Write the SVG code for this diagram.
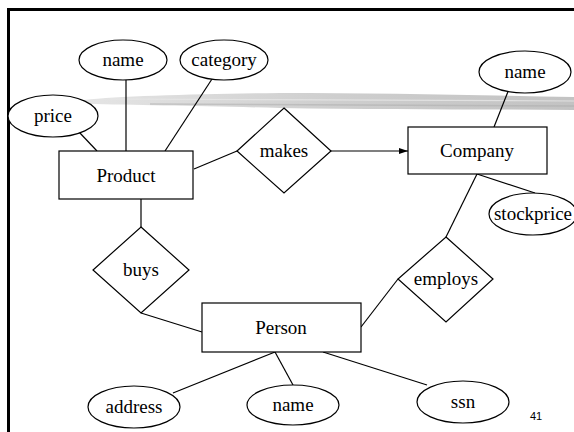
<svg xmlns="http://www.w3.org/2000/svg" width="574" height="432" viewBox="0 0 574 432">
<style>
.s{fill:#fff;stroke:#000;stroke-width:1.2}
.t{font-family:"Liberation Serif","Times New Roman",serif;font-size:19px;fill:#000;text-anchor:middle}
.c line{stroke:#000;stroke-width:1.2;fill:none}
</style>
<defs>
<marker id="ah" markerWidth="10" markerHeight="8" refX="9" refY="4" orient="auto" markerUnits="userSpaceOnUse">
<path d="M0,1 L9,4 L0,7 Z" fill="#000"/>
</marker>
<linearGradient id="br" x1="0" x2="1" y1="0" y2="0">
<stop offset="0" stop-color="#e0e0e0"/>
<stop offset="0.5" stop-color="#c6c6c6"/>
<stop offset="1" stop-color="#b8b8b8"/>
</linearGradient>
</defs>
<rect width="574" height="432" fill="#fff"/>
<g id="frame">
<path d="M8.5,432 L8.5,9.5 L574,9.5" fill="none" stroke="#000" stroke-width="3"/>
</g>
<g id="brush">
<path d="M84,100 C120,96 200,94 280,93 C380,93 480,95 574,97 L574,110 C480,109 380,110 280,108 C200,106 140,105 86,104 Z" fill="url(#br)" opacity="0.85"/>
<path d="M110,99 L574,101" stroke="#e8e8e8" stroke-width="1.2" opacity="0.8"/>
<path d="M150,104 L574,106" stroke="#ababab" stroke-width="1.5" opacity="0.5"/>
</g>
<g class="c" id="connectors">
<line x1="126" y1="80" x2="126" y2="151"/>
<line x1="212" y1="79" x2="165" y2="151"/>
<line x1="79" y1="132" x2="97" y2="151"/>
<line x1="194" y1="169" x2="237" y2="151"/>
<line x1="331" y1="151" x2="408" y2="151" marker-end="url(#ah)"/>
<line x1="509" y1="89" x2="494" y2="127"/>
<line x1="477" y1="174" x2="535" y2="193"/>
<line x1="477" y1="174" x2="446" y2="237"/>
<line x1="398" y1="279" x2="361" y2="327"/>
<line x1="141" y1="199" x2="141" y2="227"/>
<line x1="141" y1="313" x2="202" y2="332"/>
<line x1="275" y1="352" x2="173" y2="393"/>
<line x1="275" y1="352" x2="293" y2="385"/>
<line x1="323" y1="352" x2="427" y2="385"/>
</g>
<g id="product-name"><ellipse class="s" cx="123" cy="60" rx="44" ry="20"/><text class="t" x="123" y="66">name</text></g>
<g id="category"><ellipse class="s" cx="224" cy="60" rx="44" ry="20"/><text class="t" x="224" y="66">category</text></g>
<g id="price"><ellipse class="s" cx="53" cy="116" rx="45" ry="21"/><text class="t" x="53" y="122">price</text></g>
<g id="product"><rect class="s" x="59" y="151" width="134" height="48"/><text class="t" x="126" y="182">Product</text></g>
<g id="makes"><polygon class="s" points="284,108 331,151 284,193 237,151"/><text class="t" x="284" y="157">makes</text></g>
<g id="company"><rect class="s" x="408" y="127" width="139" height="47"/><text class="t" x="477" y="157">Company</text></g>
<g id="company-name"><ellipse class="s" cx="525" cy="72" rx="46" ry="21"/><text class="t" x="525" y="78">name</text></g>
<g id="stockprice"><ellipse class="s" cx="533" cy="214" rx="44" ry="21"/><text class="t" x="533" y="220">stockprice</text></g>
<g id="employs"><polygon class="s" points="446,237 493,279 446,322 398,279"/><text class="t" x="446" y="285">employs</text></g>
<g id="buys"><polygon class="s" points="141,227 189,270 141,313 93,270"/><text class="t" x="141" y="276">buys</text></g>
<g id="person"><rect class="s" x="202" y="303" width="159" height="49"/><text class="t" x="281" y="334">Person</text></g>
<g id="address"><ellipse class="s" cx="134" cy="407" rx="46" ry="21"/><text class="t" x="134" y="413">address</text></g>
<g id="person-name"><ellipse class="s" cx="293" cy="405" rx="46" ry="20"/><text class="t" x="293" y="411">name</text></g>
<g id="ssn"><ellipse class="s" cx="463" cy="402" rx="46" ry="21"/><text class="t" x="463" y="408">ssn</text></g>
<text x="536" y="420" font-family="'Liberation Sans',Arial,sans-serif" font-size="11" text-anchor="middle" fill="#000">41</text>
</svg>
